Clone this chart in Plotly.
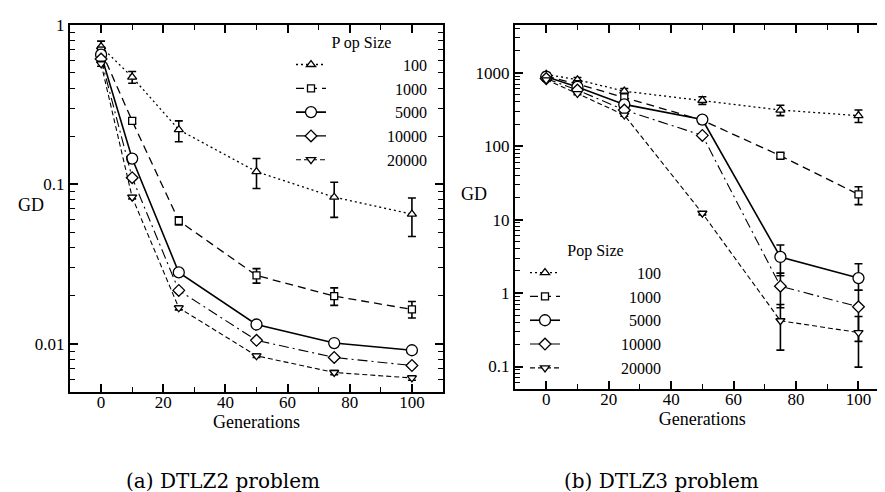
import numpy as np
import plotly.graph_objects as go

# ---------------- data ----------------
generations = [0, 10, 25, 50, 75, 100]
pop_sizes = ["100", "1000", "5000", "10000", "20000"]

# DTLZ2 (left panel): mean GD, upper and lower error-bar ends
dtlz2_100 = [0.73, 0.47, 0.22, 0.12, 0.083, 0.065]
dtlz2_100_hi = [0.79, 0.51, 0.25, 0.145, 0.103, 0.082]
dtlz2_100_lo = [0.68, 0.43, 0.185, 0.094, 0.062, 0.047]

dtlz2_1000 = [0.69, 0.25, 0.059, 0.0268, 0.0199, 0.0164]
dtlz2_1000_hi = [0.72, 0.26, 0.0625, 0.0296, 0.0224, 0.0184]
dtlz2_1000_lo = [0.66, 0.24, 0.0555, 0.0240, 0.0174, 0.0145]

dtlz2_5000 = [0.65, 0.145, 0.028, 0.0132, 0.0101, 0.0091]
dtlz2_5000_hi = [0.67, 0.149, 0.0288, 0.0137, 0.0104, 0.0094]
dtlz2_5000_lo = [0.63, 0.141, 0.0272, 0.0127, 0.0098, 0.0088]

dtlz2_10000 = [0.61, 0.11, 0.0216, 0.0105, 0.0082, 0.0073]
dtlz2_10000_hi = [0.63, 0.113, 0.0222, 0.0108, 0.0084, 0.0075]
dtlz2_10000_lo = [0.59, 0.107, 0.0210, 0.0102, 0.0080, 0.0071]

dtlz2_20000 = [0.57, 0.083, 0.0168, 0.0084, 0.0066, 0.0061]
dtlz2_20000_hi = [0.59, 0.085, 0.0173, 0.0086, 0.0068, 0.0063]
dtlz2_20000_lo = [0.55, 0.081, 0.0163, 0.0082, 0.0064, 0.0059]

# DTLZ3 (right panel)
dtlz3_100 = [950, 800, 560, 420, 310, 260]
dtlz3_100_hi = [1000, 860, 610, 470, 360, 310]
dtlz3_100_lo = [900, 740, 510, 370, 260, 210]

dtlz3_1000 = [900, 700, 460, 225, 74, 22]
dtlz3_1000_hi = [940, 730, 490, 240, 80, 28]
dtlz3_1000_lo = [860, 670, 430, 210, 68, 16]

dtlz3_5000 = [880, 640, 370, 230, 3.1, 1.6]
dtlz3_5000_hi = [910, 660, 390, 240, 4.5, 2.5]
dtlz3_5000_lo = [850, 620, 350, 220, 1.72, 1.09]

dtlz3_10000 = [830, 580, 310, 140, 1.24, 0.65]
dtlz3_10000_hi = [860, 600, 325, 146, 1.87, 1.09]
dtlz3_10000_lo = [800, 560, 295, 134, 0.63, 0.22]

dtlz3_20000 = [800, 520, 265, 12.2, 0.42, 0.29]
dtlz3_20000_hi = [830, 540, 275, 12.8, 0.70, 0.48]
dtlz3_20000_lo = [770, 500, 255, 11.6, 0.167, 0.098]

x_tick_vals = [0, 20, 40, 60, 80, 100]
left_y_ticks = [0.01, 0.1, 1]
left_y_labels = ["0.01", "0.1", "1"]
right_y_ticks = [0.1, 1, 10, 100, 1000]
right_y_labels = ["0.1", "1", "10", "100", "1000"]

# ---------------- styles ----------------
FONT = "Liberation Serif, Times New Roman, serif"
CAPTION_FONT = "DejaVu Serif"
styles = [
    dict(symbol="triangle-up", size=8, dash="2px,3px", width=1.3),
    dict(symbol="square", size=7, dash="8px,5px", width=1.3),
    dict(symbol="circle", size=11, dash="solid", width=1.6),
    dict(symbol="diamond", size=9, dash="10px,4px,2px,4px", width=1.1),
    dict(symbol="triangle-down", size=8, dash="5px,3px", width=1.1),
]

left_series = [
    (dtlz2_100, dtlz2_100_hi, dtlz2_100_lo),
    (dtlz2_1000, dtlz2_1000_hi, dtlz2_1000_lo),
    (dtlz2_5000, dtlz2_5000_hi, dtlz2_5000_lo),
    (dtlz2_10000, dtlz2_10000_hi, dtlz2_10000_lo),
    (dtlz2_20000, dtlz2_20000_hi, dtlz2_20000_lo),
]
right_series = [
    (dtlz3_100, dtlz3_100_hi, dtlz3_100_lo),
    (dtlz3_1000, dtlz3_1000_hi, dtlz3_1000_lo),
    (dtlz3_5000, dtlz3_5000_hi, dtlz3_5000_lo),
    (dtlz3_10000, dtlz3_10000_hi, dtlz3_10000_lo),
    (dtlz3_20000, dtlz3_20000_hi, dtlz3_20000_lo),
]

NB = "\u00a0"  # a no-break space is half a digit wide in Times


def label(s):
    return NB * (2 * (5 - len(s)) + 14) + s


fig = go.Figure()


def add_panel(series, xa, ya, legend_name):
    for (vals, hi, lo), st, name in zip(series, styles, pop_sizes):
        v = np.array(vals, dtype=float)
        plus = np.array(hi, dtype=float) - v
        minus = v - np.array(lo, dtype=float)
        fig.add_trace(go.Scatter(
            x=generations, y=vals, xaxis=xa, yaxis=ya,
            mode="lines+markers", name=label(name), legend=legend_name,
            line=dict(color="black", width=st["width"], dash=st["dash"]),
            marker=dict(symbol=st["symbol"], size=st["size"], color="white",
                        line=dict(color="black", width=1.3)),
            error_y=dict(type="data", array=plus, arrayminus=minus,
                         color="black", thickness=1.6, width=4, visible=True),
        ))


add_panel(left_series, "x", "y", "legend")
add_panel(right_series, "x2", "y2", "legend2")

W, H = 885, 492

axis_common = dict(
    showline=True, linecolor="black", linewidth=2, mirror="ticks",
    ticks="inside", ticklen=8, tickwidth=1.5, tickcolor="black",
    showgrid=False, zeroline=False, ticklabeloverflow="allow",
    tickfont=dict(family=FONT, size=17, color="black"),
)

minor_x = dict(ticks="inside", ticklen=5, tickwidth=1.3, tickcolor="black",
               tickmode="array", tickvals=[10, 30, 50, 70, 90], showgrid=False)


def log_minor(lo_exp, hi_exp):
    vals = []
    for e in range(lo_exp, hi_exp + 1):
        for m in range(2, 10):
            vals.append(m * 10.0 ** e)
    return dict(ticks="inside", ticklen=5, tickwidth=1.2, tickcolor="black",
                tickmode="array", tickvals=vals, showgrid=False)


x_title = dict(text="Generations", font=dict(family=FONT, size=18, color="black"),
               standoff=0)

legend_font = dict(family=FONT, size=16, color="black")
legend_title_font = dict(family=FONT, size=16, color="black")

fig.update_layout(
    width=W, height=H,
    margin=dict(l=0, r=0, t=0, b=0),
    paper_bgcolor="white", plot_bgcolor="white",
    showlegend=True,
    xaxis=dict(axis_common, domain=[62 / W, 435 / W], range=[-10, 110],
               tickmode="array", tickvals=x_tick_vals, minor=minor_x,
               anchor="y", title=x_title, ticklabelstandoff=-6),
    yaxis=dict(axis_common, domain=[1 - 381.7 / H, 1 - 8 / H], type="log",
               range=[-2.301, 0.0], tickmode="array", tickvals=left_y_ticks,
               ticktext=left_y_labels, minor=log_minor(-3, 0), anchor="x"),
    xaxis2=dict(axis_common, domain=[507 / W, 881.7 / W], range=[-10, 110],
                tickmode="array", tickvals=x_tick_vals, minor=minor_x,
                anchor="y2", title=x_title, ticklabelstandoff=-6),
    yaxis2=dict(axis_common, domain=[1 - 379 / H, 1 - 8 / H], type="log",
                range=[-1.307, 3.651], tickmode="array", tickvals=right_y_ticks,
                ticktext=right_y_labels, minor=log_minor(-2, 3), anchor="x2"),
    legend=dict(
        x=283 / W, y=1 - 10 / H, xanchor="left", yanchor="top",
        bgcolor="rgba(0,0,0,0)", borderwidth=0, font=legend_font,
        title=dict(text="P op Size", side="top center", font=legend_title_font),
        tracegroupgap=0, itemsizing="trace",
    ),
    legend2=dict(
        x=517 / W, y=1 - 222 / H, xanchor="left", yanchor="top",
        bgcolor="rgba(0,0,0,0)", borderwidth=0, font=legend_font,
        title=dict(text="Pop Size", side="top center", font=legend_title_font),
        tracegroupgap=0, itemsizing="trace",
    ),
    annotations=[
        dict(text="GD", xref="paper", yref="paper", x=23 / W, y=1 - 191 / H,
             xanchor="center", yanchor="middle",
             showarrow=False, font=dict(family=FONT, size=18, color="black")),
        dict(text="GD", xref="paper", yref="paper", x=466 / W, y=1 - 180 / H,
             xanchor="center", yanchor="middle",
             showarrow=False, font=dict(family=FONT, size=18, color="black")),
        dict(text="(a) DTLZ2 problem", xref="paper", yref="paper",
             x=215 / W, y=1 - 473 / H, xanchor="center", yanchor="middle",
             showarrow=False, font=dict(family=CAPTION_FONT, size=20, color="black")),
        dict(text="(b) DTLZ3 problem", xref="paper", yref="paper",
             x=653 / W, y=1 - 473 / H, xanchor="center", yanchor="middle",
             showarrow=False, font=dict(family=CAPTION_FONT, size=20, color="black")),
    ],
)

fig.write_html("out.html")
